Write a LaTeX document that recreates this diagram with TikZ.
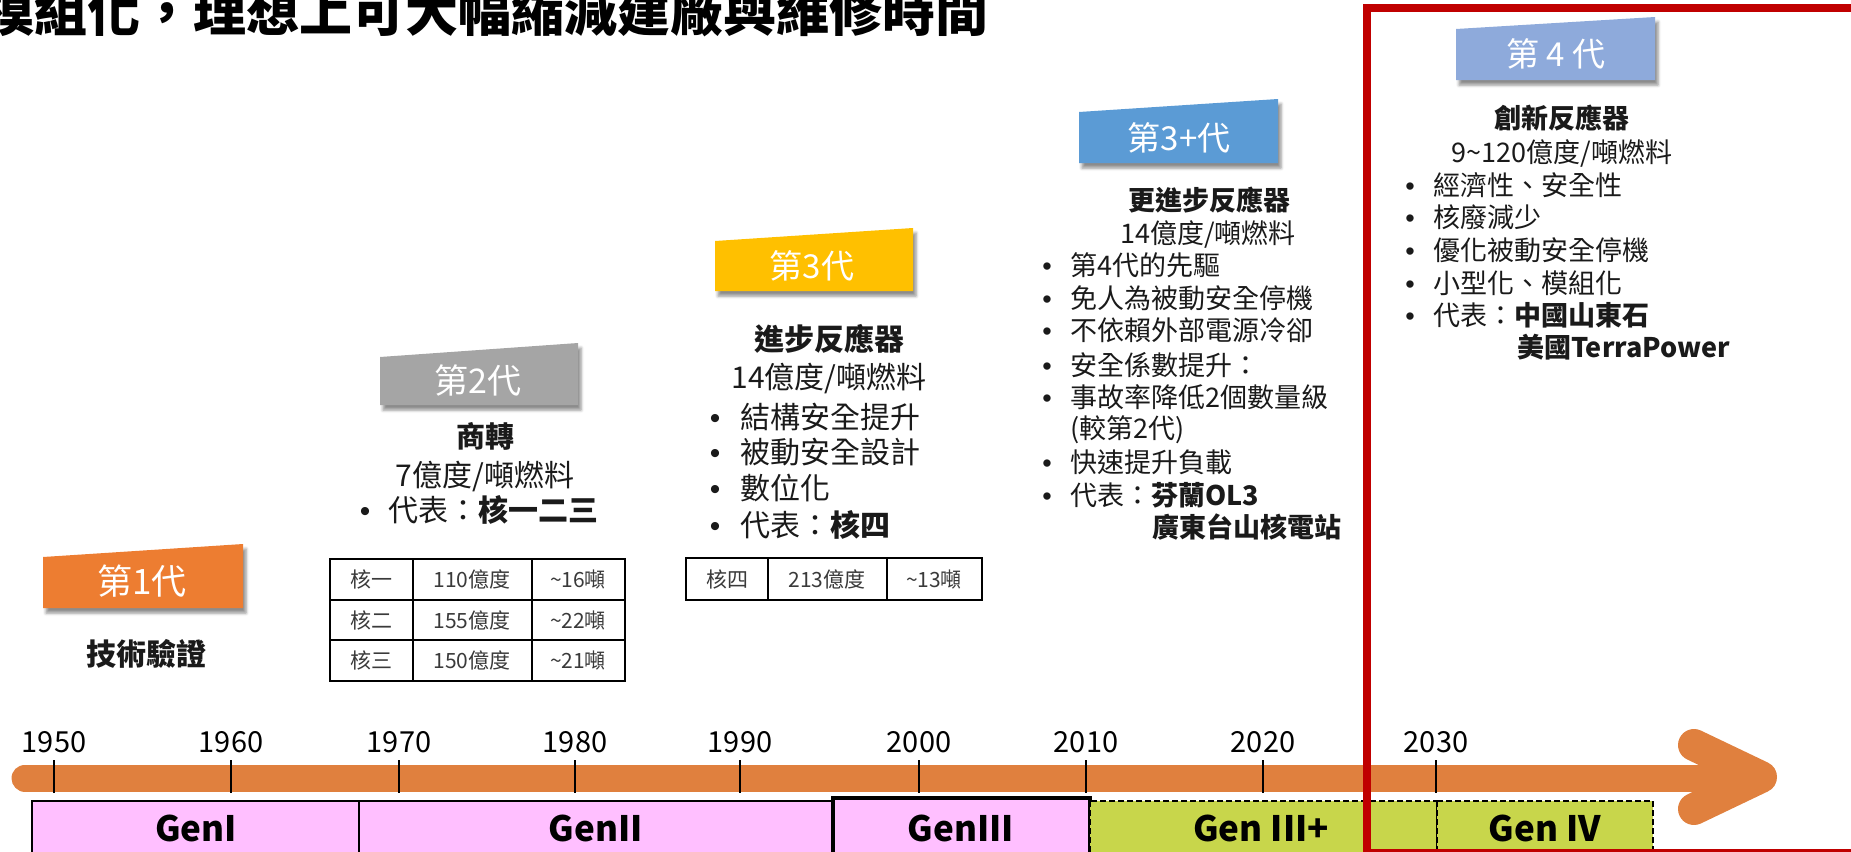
\documentclass[tikz,border=0pt]{standalone}
\usepackage{fontspec}
\setmainfont{Noto Sans CJK TC}
\newfontfamily\bulfont{Liberation Sans}
\usetikzlibrary{shadows.blur}
\definecolor{orgA}{HTML}{ED7D31}
\definecolor{grayA}{HTML}{A5A5A5}
\definecolor{goldA}{HTML}{FFC000}
\definecolor{blueA}{HTML}{5B9BD5}
\definecolor{blueB}{HTML}{8EAADB}
\definecolor{barC}{HTML}{E0803E}
\definecolor{pinkC}{HTML}{FFBFFF}
\definecolor{greenC}{HTML}{C8D64B}
\definecolor{redC}{HTML}{C00000}
\definecolor{txtC}{HTML}{1A1A1A}
\definecolor{tabC}{HTML}{3A3A3A}
\tikzset{
  every node/.style={inner sep=0pt, outer sep=0pt, text=txtC},
  fs/.style={font=\fontsize{#1}{#1}\selectfont},
  bfs/.style={font=\fontsize{#1}{#1}\selectfont\bfseries},
  lab/.style={anchor=base, text=white},
  ln/.style={anchor=base west},
  ctr/.style={anchor=base},
  bul/.style={anchor=base, font=\fontsize{#1}{#1}\selectfont\bulfont},
  tagbox/.style={blur shadow={shadow xshift=3pt, shadow yshift=-5pt, shadow blur radius=3pt, shadow opacity=45}},
  tabline/.style={draw=black, line width=2pt},
  tabtxt/.style={anchor=base, text=tabC, font=\fontsize{21}{21}\selectfont},
  tick/.style={draw=black, line width=1.2pt},
  year/.style={anchor=base, text=black, font=\fontsize{29}{29}\selectfont},
  genpink/.style={fill=pinkC, draw=black, line width=2.5pt},
  gengreen/.style={fill=greenC, draw=black, line width=2.5pt, dash pattern=on 6pt off 3pt},
  gentxt/.style={anchor=base, text=black, font=\fontsize{35}{35}\selectfont\bfseries},
}
\begin{document}
\begin{tikzpicture}[x=1pt,y=-1pt]
\useasboundingbox (0,0) rectangle (1851,851);
% title
\node[ln, bfs=53, text=black] (title) at (-18.6,32) {模組化，理想上可大幅縮減建廠與維修時間};

% ---------- Gen 1 ----------
\path[fill=orgA, tagbox] (43,608) -- (243,608) -- (243,544) -- (43,557) -- cycle;
\node[lab, fs=35] (g1tag) at (142,594) {第1代};
\node[ctr, bfs=30] (g1t) at (146,665.5) {技術驗證};

% ---------- Gen 2 ----------
\path[fill=grayA, tagbox] (380,405) -- (578,405) -- (578,343) -- (380,357) -- cycle;
\node[lab, fs=34] (g2tag) at (478,393) {第2代};
\node[ctr, bfs=29] (g2t) at (485,447) {商轉};
\node[ctr, fs=30] (g2c) at (485,486.5) {7億度/噸燃料};
\node[bul=30] (g2b1) at (365,521.5) {•};
\node[ln, fs=30] (g2l1) at (388,521.5) {代表：\textbf{核一二三}};
% table 2
\draw[tabline] (330,559) rectangle (625,681);
\draw[tabline] (330,600) -- (625,600) (330,640) -- (625,640);
\draw[tabline] (413,559) -- (413,681) (532,559) -- (532,681);
\node[tabtxt] (t2a1) at (371,587.5) {核一};
\node[tabtxt] (t2a2) at (472,587.5) {110億度};
\node[tabtxt] (t2a3) at (578,587.5) {\textasciitilde16噸};
\node[tabtxt] (t2b1) at (371,628) {核二};
\node[tabtxt] (t2b2) at (472,628) {155億度};
\node[tabtxt] (t2b3) at (578,628) {\textasciitilde22噸};
\node[tabtxt] (t2c1) at (371,668.5) {核三};
\node[tabtxt] (t2c2) at (472,668.5) {150億度};
\node[tabtxt] (t2c3) at (578,668.5) {\textasciitilde21噸};

% ---------- Gen 3 ----------
\path[fill=goldA, tagbox] (715,291) -- (913,291) -- (913,228) -- (715,241) -- cycle;
\node[lab, fs=33] (g3tag) at (812,278.5) {第3代};
\node[ctr, bfs=30] (g3t) at (829,350.5) {進步反應器};
\node[ctr, fs=30] (g3c) at (829,388.5) {14億度/噸燃料};
\node[bul=30] (g3b1) at (715,428.5) {•};
\node[ln, fs=30] (g3l1) at (740,428.5) {結構安全提升};
\node[bul=30] (g3b2) at (715,463.5) {•};
\node[ln, fs=30] (g3l2) at (740,463.5) {被動安全設計};
\node[bul=30] (g3b3) at (715,499.5) {•};
\node[ln, fs=30] (g3l3) at (740,499.5) {數位化};
\node[bul=30] (g3b4) at (715,536.5) {•};
\node[ln, fs=30] (g3l4) at (740,536.5) {代表：\textbf{核四}};
% table 3
\draw[tabline] (686,558) rectangle (982,600);
\draw[tabline] (768,558) -- (768,600) (887,558) -- (887,600);
\node[tabtxt] (t3a1) at (727,587) {核四};
\node[tabtxt] (t3a2) at (827,587) {213億度};
\node[tabtxt] (t3a3) at (934,587) {\textasciitilde13噸};

% ---------- Gen 3+ ----------
\path[fill=blueA, tagbox] (1079,163) -- (1278,163) -- (1278,99) -- (1079,112) -- cycle;
\node[lab, fs=33] (g3ptag) at (1179,150.5) {第3+代};
\node[ctr, bfs=27] (g3pt) at (1209,210) {更進步反應器};
\node[ctr, fs=27] (g3pc) at (1208,243) {14億度/噸燃料};
\node[bul=27] (g3pb1) at (1047,275) {•};
\node[ln, fs=27] (g3pl1) at (1070,275) {第4代的先驅};
\node[bul=27] (g3pb2) at (1047,308) {•};
\node[ln, fs=27] (g3pl2) at (1070,308) {免人為被動安全停機};
\node[bul=27] (g3pb3) at (1047,340) {•};
\node[ln, fs=27] (g3pl3) at (1070,340) {不依賴外部電源冷卻};
\node[bul=27] (g3pb4) at (1047,375) {•};
\node[ln, fs=27] (g3pl4) at (1070,375) {安全係數提升：};
\node[bul=27] (g3pb5) at (1047,407) {•};
\node[ln, fs=27] (g3pl5) at (1070,407) {事故率降低2個數量級};
\node[ln, fs=27] (g3pl6) at (1070,438) {(較第2代)};
\node[bul=27] (g3pb7) at (1047,472) {•};
\node[ln, fs=27] (g3pl7) at (1070,472) {快速提升負載};
\node[bul=27] (g3pb8) at (1047,505) {•};
\node[ln, fs=27] (g3pl8) at (1070,505) {代表：\textbf{芬蘭OL3}};
\node[ln, bfs=27] (g3pl9) at (1152,537) {廣東台山核電站};

% ---------- Gen 4 ----------
\path[fill=blueB, tagbox] (1456,80) -- (1655,80) -- (1655,17) -- (1456,29) -- cycle;
\node[lab, fs=33] (g4tag) at (1556,66.5) {第 4 代};
\node[ctr, bfs=27] (g4t) at (1562,128) {創新反應器};
\node[ctr, fs=27] (g4c) at (1562,162) {9\textasciitilde120億度/噸燃料};
\node[bul=27] (g4b1) at (1410,195) {•};
\node[ln, fs=27] (g4l1) at (1433,195) {經濟性、安全性};
\node[bul=27] (g4b2) at (1410,227) {•};
\node[ln, fs=27] (g4l2) at (1433,227) {核廢減少};
\node[bul=27] (g4b3) at (1410,260) {•};
\node[ln, fs=27] (g4l3) at (1433,260) {優化被動安全停機};
\node[bul=27] (g4b4) at (1410,293) {•};
\node[ln, fs=27] (g4l4) at (1433,293) {小型化、模組化};
\node[bul=27] (g4b5) at (1410,325) {•};
\node[ln, fs=27] (g4l5) at (1433,325) {代表：\textbf{中國山東石}};
\node[ln, bfs=27] (g4l6) at (1517,357) {美國TerraPower};

% ---------- timeline ----------
\coordinate (barL) at (25,778);
\coordinate (barR) at (1745,778);
\coordinate (hdA) at (1694,745);
\coordinate (hdT) at (1761,777);
\coordinate (hdB) at (1694,809);
\draw[barC, line width=27pt, line cap=round] (barL) -- (barR);
\draw[barC, line width=32pt, line cap=round, line join=round] (hdA) -- (hdT) -- (hdB);

\foreach \x/\yr in {54/1950,231/1960,399/1970,575/1980,740/1990,919/2000,1086/2010,1263/2020,1436/2030}{
  \draw[tick] (\x,760) -- (\x,793);
  \node[year] (y\yr) at (\x,752) {\yr};
}

% generation bars
\draw[genpink] (32,801) rectangle (359,858);
\draw[genpink] (359,801) rectangle (833,858);
\draw[genpink, line width=3.5pt] (833,798) rectangle (1090,858);
\draw[gengreen] (1090,801) rectangle (1437,858);
\draw[gengreen] (1437,801) rectangle (1653,858);
\node[gentxt] (gI) at (196,841) {GenI};
\node[gentxt] (gII) at (596,841) {GenII};
\node[gentxt] (gIII) at (961,841) {GenIII};
\node[gentxt] (gIIIp) at (1261,841) {Gen III+};
\node[gentxt] (gIV) at (1545,841) {Gen IV};

% red frame
\draw[redC, line width=8pt] (1367,8.5) rectangle (1880,853);
\end{tikzpicture}
\end{document}
